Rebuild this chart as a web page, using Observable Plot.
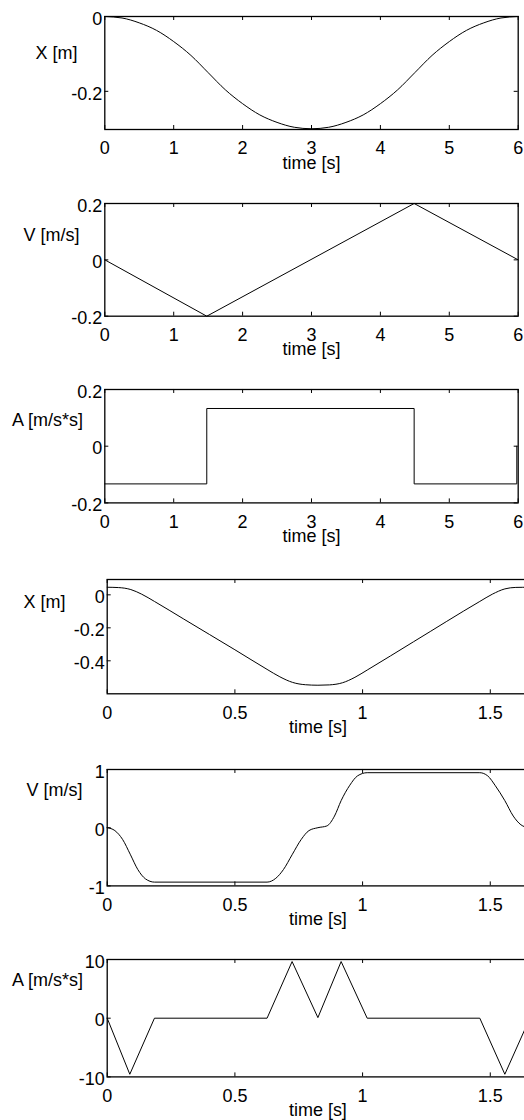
<!DOCTYPE html>
<html><head><meta charset="utf-8">
<script src="https://cdn.jsdelivr.net/npm/d3@7"></script>
<script src="https://cdn.jsdelivr.net/npm/@observablehq/plot@0.6"></script>
<style>
html,body{margin:0;padding:0;background:#fff;overflow:hidden;width:524px;height:1120px;}
#root{position:relative;width:524px;height:1120px;overflow:hidden;background:#fff;}
.panel{position:absolute;left:0;width:540px;}
</style></head><body><div id="root"></div>
<script>
// ---- data ----
const timeLabel = "time [s]";
const ticksT6 = [0, 1, 2, 3, 4, 5, 6];
const ticksT16 = [0, 0.5, 1, 1.5];

// Panel 1: position, 6 s cycle
const t1 = [0,0.25,0.5,0.75,1,1.25,1.5,1.75,2,2.25,2.5,2.75,3,3.25,3.5,3.75,4,4.25,4.5,4.75,5,5.25,5.5,5.75,6];
const x1 = [0,-0.004,-0.017,-0.037,-0.067,-0.104,-0.150,-0.196,-0.233,-0.263,-0.283,-0.296,-0.300,-0.296,-0.283,-0.263,-0.233,-0.196,-0.150,-0.104,-0.067,-0.037,-0.017,-0.004,0];
const yTicks1 = [-0.2, 0];

// Panel 2: velocity
const t2 = [0, 1.48, 4.49, 6];
const v2 = [0, -0.2, 0.2, 0];
const yTicks2 = [-0.2, 0, 0.2];

// Panel 3: acceleration (step)
const t3 = [0, 1.48, 4.49, 5.98];
const a3 = [-0.133, 0.133, -0.133, 0];
const yTicks3 = [-0.2, 0, 0.2];

// Panel 4: position, fast cycle
const t4 = [0,0.045,0.0925,0.135,0.185,0.3,0.4,0.5,0.626,0.676,0.726,0.776,0.825,0.87,0.9215,0.97,1.018,1.2,1.459,1.508,1.557,1.6,1.65];
const x4 = [0.046,0.044,0.032,0.004,-0.040,-0.147,-0.240,-0.333,-0.452,-0.497,-0.531,-0.545,-0.548,-0.546,-0.533,-0.500,-0.456,-0.284,-0.040,0.004,0.036,0.045,0.046];
const yTicks4 = [-0.4, -0.2, 0];

// Panel 5: velocity, fast cycle
const t5 = [0,0.03,0.06,0.09,0.12,0.15,0.185,0.626,0.66,0.69,0.724,0.76,0.79,0.825,0.86,0.89,0.916,0.95,0.98,1.018,1.459,1.49,1.52,1.557,1.59,1.62,1.65];
const v5 = [0,-0.05,-0.2,-0.455,-0.72,-0.88,-0.935,-0.935,-0.87,-0.72,-0.465,-0.2,-0.05,0,0.03,0.2,0.465,0.73,0.89,0.945,0.945,0.89,0.72,0.465,0.2,0.05,0];
const yTicks5 = [-1, 0, 1];

// Panel 6: acceleration, fast cycle
const t6 = [0, 0.0885, 0.185, 0.626, 0.724, 0.825, 0.916, 1.018, 1.459, 1.557, 1.655];
const a6 = [0, -9.55, 0, 0, 9.65, 0.1, 9.65, 0, 0, -9.55, 0];
const yTicks6 = [-10, 0, 10];

const panels = [
  {t: t1, v: x1, curve: "monotone-x", xDomain: [0, 6], xTicks: ticksT6, yDomain: [-0.302, 0], yTicks: yTicks1, ylabel: "X [m]",
   top: 16, bottom: 129, left: 104.3, right: 517.7, lx: 56, ly: 53},
  {t: t2, v: v2, curve: "linear", xDomain: [0, 6], xTicks: ticksT6, yDomain: [-0.2, 0.2], yTicks: yTicks2, ylabel: "V [m/s]",
   top: 203.3, bottom: 316, left: 104.3, right: 517.7, lx: 51, ly: 235},
  {t: t3, v: a3, curve: "step-after", xDomain: [0, 6], xTicks: ticksT6, yDomain: [-0.2, 0.2], yTicks: yTicks3, ylabel: "A [m/s*s]",
   top: 389.3, bottom: 502.7, left: 104.3, right: 517.7, lx: 47, ly: 420},
  {t: t4, v: x4, curve: "monotone-x", xDomain: [0, 1.65], xTicks: ticksT16, yDomain: [-0.6, 0.093], yTicks: yTicks4, ylabel: "X [m]",
   top: 579, bottom: 693.3, left: 106.7, right: 528.1, lx: 44, ly: 601.7},
  {t: t5, v: v5, curve: "monotone-x", xDomain: [0, 1.65], xTicks: ticksT16, yDomain: [-1, 1], yTicks: yTicks5, ylabel: "V [m/s]",
   top: 769.3, bottom: 885.7, left: 106.7, right: 528.1, lx: 54, ly: 790},
  {t: t6, v: a6, curve: "linear", xDomain: [0, 1.65], xTicks: ticksT16, yDomain: [-10, 10], yTicks: yTicks6, ylabel: "A [m/s*s]",
   top: 959.3, bottom: 1076.7, left: 106.7, right: 528.1, lx: 47, ly: 980}
];

const root = document.getElementById("root");
const FONT = "'Liberation Sans', Arial, Helvetica, sans-serif";
const W = 540, MT = 16, MB = 50, TL = 4;

for (const p of panels) {
  const fh = p.bottom - p.top, fw = p.right - p.left;
  const H = fh + MT + MB;
  const data = p.t.map((d, i) => ({t: d, v: p.v[i]}));
  const svg = Plot.plot({
    width: W, height: H,
    marginTop: MT, marginBottom: MB, marginLeft: p.left, marginRight: W - p.right,
    style: {fontFamily: FONT, fontSize: "18px", background: "transparent", color: "#000", maxWidth: "none", overflow: "visible"},
    x: {domain: p.xDomain},
    y: {domain: p.yDomain},
    marks: [
      Plot.axisX(p.xTicks, {tickSize: 0, tickPadding: 12, tickFormat: d => String(d), label: null}),
      Plot.axisY(p.yTicks, {tickSize: 0, tickPadding: 2.5, tickFormat: d => String(d), label: null, dy: 2.5}),
      Plot.tickX(p.xTicks, {x: d => d, insetTop: fh - TL, stroke: "#000"}),
      Plot.tickX(p.xTicks, {x: d => d, insetBottom: fh - TL, stroke: "#000"}),
      Plot.tickY(p.yTicks, {y: d => d, insetRight: fw - TL, stroke: "#000"}),
      Plot.tickY(p.yTicks, {y: d => d, insetLeft: fw - TL, stroke: "#000"}),
      Plot.line(data, {x: "t", y: "v", curve: p.curve, stroke: "#000", strokeWidth: 1}),
      Plot.frame({stroke: "#000", strokeWidth: 1.3}),
      Plot.text([p.ylabel], {text: d => d, frameAnchor: "left", lineAnchor: "middle", dx: p.lx - p.left, dy: p.ly - (p.top + p.bottom) / 2, textAnchor: "middle", fill: "#000"}),
      Plot.text([timeLabel], {text: d => d, frameAnchor: "bottom", lineAnchor: "middle", textAnchor: "middle", dy: 33.5, fill: "#000"})
    ]
  });
  const div = document.createElement("div");
  div.className = "panel";
  div.style.top = (p.top - MT) + "px";
  div.appendChild(svg);
  root.appendChild(div);
}
</script>
</body></html>
